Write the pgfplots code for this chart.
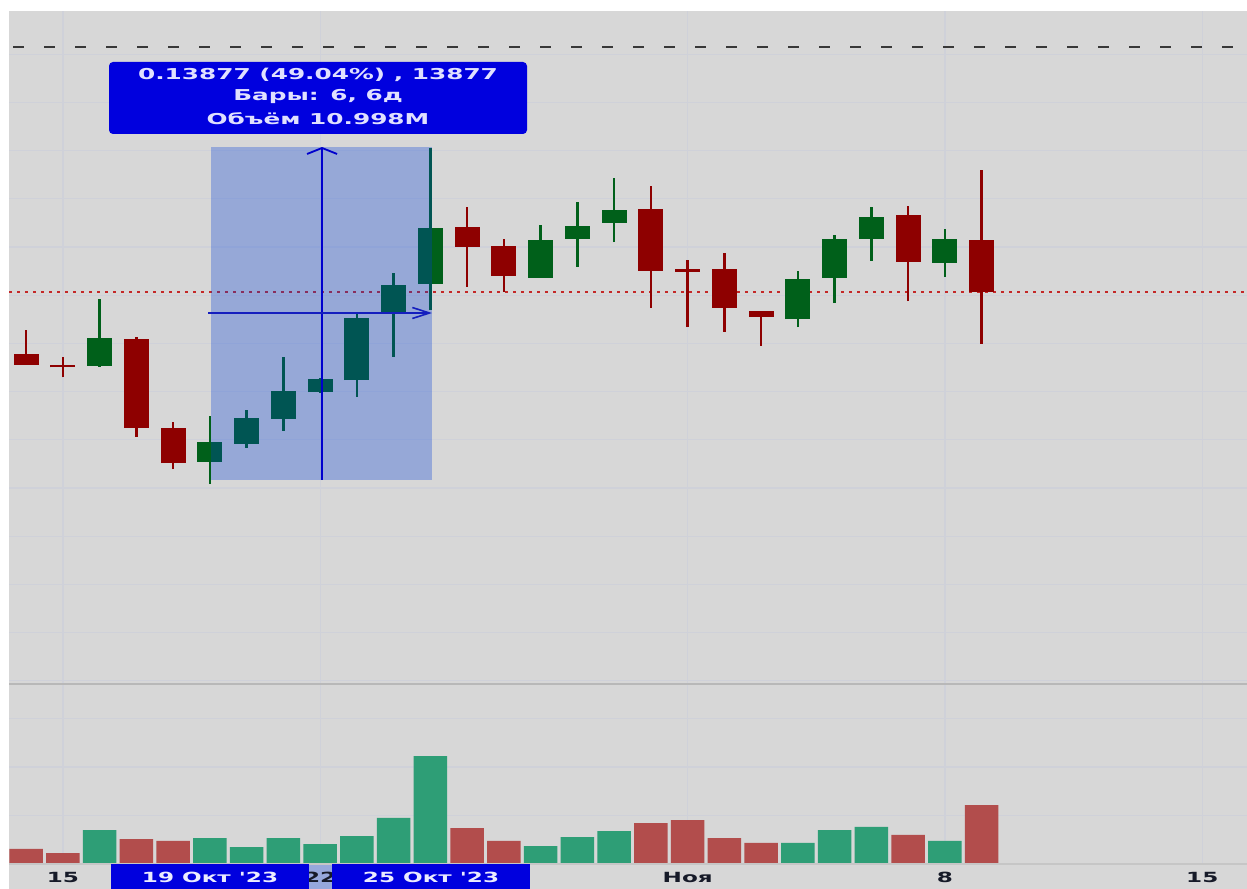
\documentclass[border=0pt]{standalone}
\usepackage{pgfplots}
\pgfplotsset{compat=1.18}
\usepackage{pgfplotstable}
\usepackage{fontspec}
\setmainfont{DejaVu Sans}
\newfontfamily\lbl[FakeStretch=1.65]{DejaVu Sans}
\usetikzlibrary{arrows.meta}

\definecolor{bg}{RGB}{215,215,215}
\definecolor{gridc}{RGB}{207,209,217}
\definecolor{cgreen}{RGB}{0,96,26}
\definecolor{cred}{RGB}{142,0,0}
\definecolor{vgreen}{RGB}{46,158,118}
\definecolor{vred}{RGB}{178,77,76}
\definecolor{ovl}{RGB}{0,60,216}
\definecolor{boxblue}{RGB}{0,0,222}
\definecolor{lbltxt}{RGB}{22,26,40}
\definecolor{hl}{RGB}{150,168,220}
\definecolor{vline}{RGB}{0,0,205}
\definecolor{hline}{RGB}{20,30,190}
\definecolor{sep}{RGB}{184,184,184}
\definecolor{lastp}{RGB}{196,40,40}

% day index: 0 = 15 Oct 2023
\pgfplotstableread{
x  o       h       l       c
1  0.33062 0.35842 0.33021 0.34224
4  0.29079 0.30988 0.28166 0.29909
5  0.29826 0.31237 0.29660 0.30905
6  0.30863 0.33436 0.30365 0.32025
7  0.31983 0.32564 0.31942 0.32523
8  0.32481 0.35220 0.31776 0.35054
9  0.35220 0.36921 0.33436 0.36423
10 0.36465 0.42108 0.35386 0.38788
13 0.36714 0.38913 0.36714 0.38290
14 0.38332 0.39867 0.37170 0.38871
15 0.38996 0.40863 0.38207 0.39535
20 0.35012 0.37004 0.34680 0.36672
21 0.36714 0.38498 0.35676 0.38332
22 0.38332 0.39660 0.37419 0.39245
24 0.37336 0.38747 0.36755 0.38332
}\greencandles

\pgfplotstableread{
x  o       h       l       c
-1 0.33560 0.34556 0.33104 0.33104
0  0.33104 0.33448 0.32593 0.33000
2  0.34183 0.34266 0.30116 0.30490
3  0.30490 0.30739 0.28788 0.29037
11 0.38830 0.39660 0.36340 0.38000
12 0.38041 0.38332 0.36133 0.36797
16 0.39577 0.40531 0.35469 0.37004
17 0.37087 0.37461 0.34680 0.36963
18 0.37087 0.37751 0.34473 0.35469
19 0.35357 0.35357 0.33892 0.35108
23 0.39328 0.39701 0.35759 0.37378
25 0.38290 0.41195 0.33975 0.36133
}\redcandles

\pgfplotstableread{
x  v
1  1.40
4  1.07
5  0.70
6  1.07
7  0.82
8  1.15
9  1.90
10 4.45
13 0.74
14 1.11
15 1.36
20 0.87
21 1.40
22 1.53
24 0.95
}\volgreen

\pgfplotstableread{
x  v
-1 0.62
0  0.45
2  1.03
3  0.95
11 1.48
12 0.95
16 1.69
17 1.81
18 1.07
19 0.87
23 1.20
25 2.43
}\volred

\pgfplotsset{
  chartbase/.style={
    scale only axis, width=619bp,
    xmin=-1.469, xmax=32.218,
    axis line style={draw=none},
    major tick length=0pt,
    xtick={0,7,17,24,31},
    grid=major,
    grid style={gridc, line width=0.55bp},
    yticklabels={},
  },
  wick/.style={draw=none, forget plot,
    error bars/.cd, y dir=plus, y explicit, error mark=none,
    error bar style={draw=#1, solid, line width=1.25bp}},
  body/.style={draw=none, forget plot,
    error bars/.cd, y dir=plus, y explicit, error mark=none,
    error bar style={draw=#1, solid, line width=12.5bp}},
}

\begin{document}
\begin{tikzpicture}
\useasboundingbox (0,0) rectangle (623.5bp,444.5bp);
\fill[white] (0,0) rectangle (623.5bp,444.5bp);
\fill[bg] (4.5bp,0) rectangle (623.5bp,439bp);
\fill[hl] (105.5bp,0) rectangle (216bp,12.5bp);

% ---------------- price panel ----------------
\begin{axis}[chartbase,
  at={(4.5bp,103bp)}, anchor=south west, height=336bp,
  ymin=0.199087, ymax=0.477925,
  ytick={0.20,0.22,0.24,0.26,0.28,0.30,0.32,0.34,0.36,0.38,0.40,0.42,0.44,0.46},
  xticklabels={},
]
\draw[dash pattern=on 5.5bp off 10bp, line width=0.75bp, black!78]
  (axis cs:-1.36,0.46299) -- (axis cs:32.05,0.46299);
\draw[dash pattern=on 1.6bp off 2.4bp, line width=0.65bp, lastp]
  (axis cs:-1.469,0.36133) -- (axis cs:32.218,0.36133);

\addplot[wick=cgreen] table[x=x, y=l, y error expr={\thisrow{h}-\thisrow{l}}] {\greencandles};
\addplot[body=cgreen] table[x=x, y=o, y error expr={\thisrow{c}-\thisrow{o}}] {\greencandles};
\addplot[wick=cred] table[x=x, y=l, y error expr={\thisrow{h}-\thisrow{l}}] {\redcandles};
\addplot[body=cred] table[x=x, y=c, y error expr={\thisrow{o}-\thisrow{c}}] {\redcandles};

\fill[ovl, opacity=0.3] (axis cs:4.03,0.28332) rectangle (axis cs:10.04,0.42149);
\draw[vline, line width=1.4bp, -{Straight Barb[length=3bp,width=15bp,line width=0.9bp]}]
  (axis cs:7.05,0.28332) -- (axis cs:7.05,0.42149);
\draw[hline, line width=0.8bp, -{Straight Barb[length=8.5bp,width=5.5bp,line width=0.8bp]}]
  (axis cs:3.946,0.35261) -- (axis cs:10.04,0.35261);
\end{axis}

% ---------------- volume panel ----------------
\begin{axis}[chartbase,
  at={(4.5bp,12.5bp)}, anchor=south west, height=90bp,
  ymin=0, ymax=7.4227,
  ytick={2,4,6},
  xticklabels={15,22,Ноя,8,15},
  xticklabel style={font=\lbl\bfseries\fontsize{7bp}{8bp}\selectfont,
    text=lbltxt, anchor=center, inner sep=0pt, yshift=-6.5bp},
]
\addplot[ybar, bar width=16.75bp, bar shift=0pt, fill=vgreen, draw=none] table[x=x, y=v] {\volgreen};
\addplot[ybar, bar width=16.75bp, bar shift=0pt, fill=vred, draw=none] table[x=x, y=v] {\volred};
\end{axis}

\draw[sep, line width=1bp] (4.5bp,102.5bp) -- (623.5bp,102.5bp);
\draw[sep!80!white, line width=0.8bp] (4.5bp,12.5bp) -- (623.5bp,12.5bp);

% date range labels on time axis
\fill[boxblue] (55.5bp,0) rectangle (154.5bp,12.5bp);
\fill[boxblue] (166bp,0) rectangle (265bp,12.5bp);
\node[text=white!92!blue, font=\lbl\bfseries\fontsize{7bp}{8bp}\selectfont, anchor=center]
  at (105bp,6bp) {19 Окт '23};
\node[text=white!92!blue, font=\lbl\bfseries\fontsize{7bp}{8bp}\selectfont, anchor=center]
  at (215.5bp,6bp) {25 Окт '23};

% measurement info box
\fill[boxblue, rounded corners=2bp] (54.5bp,377.5bp) rectangle (263.5bp,413.5bp);
\begin{scope}[every node/.style={text=white!88!blue, font=\lbl\bfseries\fontsize{7.5bp}{9bp}\selectfont, anchor=center}]
\node at (159bp,407bp) {0.13877 (49.04\%) , 13877};
\node at (159bp,396bp) {Бары: 6, 6д};
\node at (159bp,385bp) {Объём 10.998M};
\end{scope}
\end{tikzpicture}
\end{document}
